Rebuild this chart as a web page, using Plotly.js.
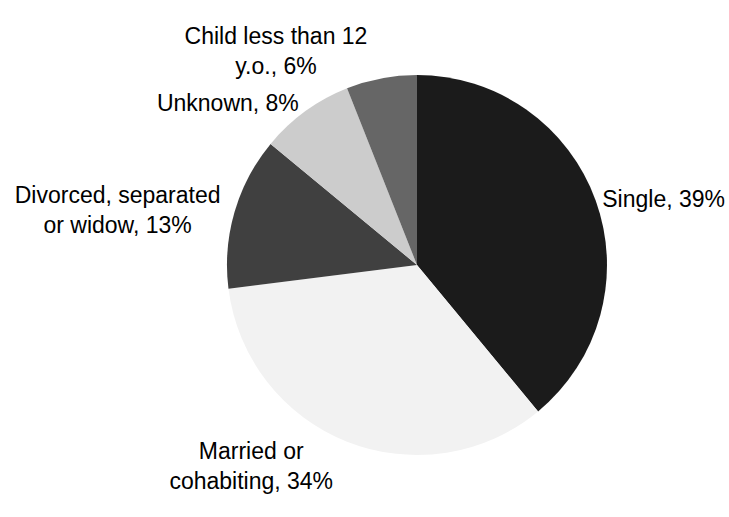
<!DOCTYPE html>
<html>
<head>
<meta charset="utf-8">
<script src="https://cdn.plot.ly/plotly-3.0.1.min.js"></script>
<style>html,body{margin:0;padding:0;background:#fff;}</style>
</head>
<body>
<div id="chart" style="width:729px;height:517px;"></div>
<script>
var categories = ["Single", "Married or cohabiting", "Divorced, separated or widow", "Unknown", "Child less than 12 y.o."];
var labelText = ["Single, 39%", "Married or<br>cohabiting, 34%", "Divorced, separated<br>or widow, 13%", "Unknown, 8%", "Child less than 12<br>y.o., 6%"];
var shares = [39, 34, 13, 8, 6];
var sliceColors = ["#1b1b1b", "#f2f2f2", "#404040", "#cccccc", "#666666"];

var trace = {
  type: "pie",
  labels: categories,
  values: shares,
  text: labelText,
  textinfo: "text",
  textposition: "outside",
  sort: false,
  direction: "clockwise",
  rotation: 0,
  marker: {colors: sliceColors, line: {width: 0}},
  outsidetextfont: {family: "Liberation Sans, Arial, sans-serif", size: 23, color: "#000"},
  domain: {x: [0.3, 0.844], y: [0, 1]},
  hoverinfo: "none",
  automargin: false
};

var layout = {
  width: 729,
  height: 517,
  margin: {l: 0, r: 0, t: 75, b: 62},
  showlegend: false,
  paper_bgcolor: "#ffffff",
  plot_bgcolor: "#ffffff",
  font: {family: "Liberation Sans, Arial, sans-serif", size: 23, color: "#000"}
};

Plotly.newPlot("chart", [trace], layout, {displayModeBar: false, staticPlot: true});
</script>
</body>
</html>
